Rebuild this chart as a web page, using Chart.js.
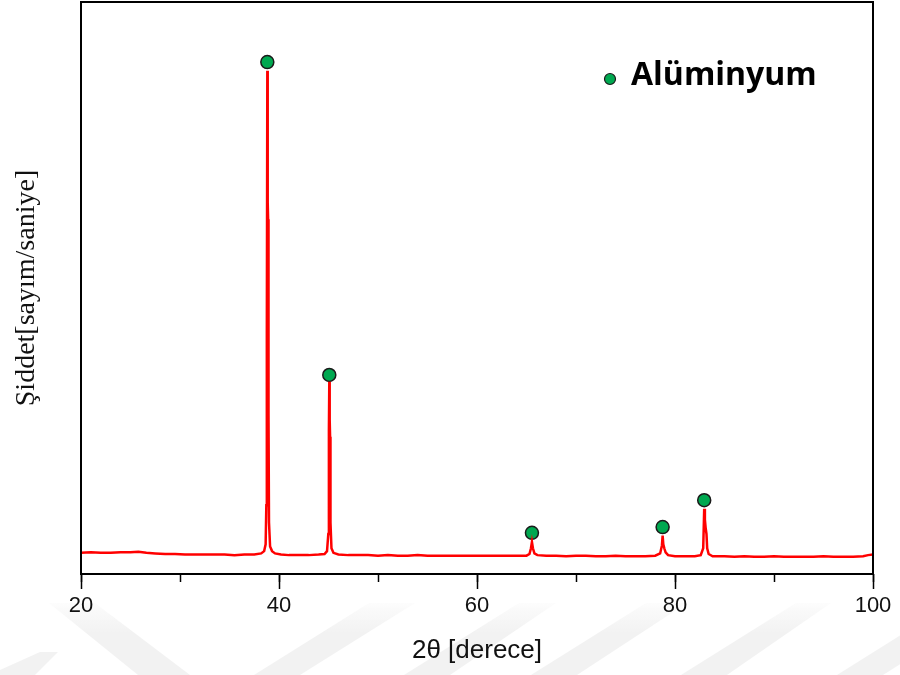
<!DOCTYPE html>
<html>
<head>
<meta charset="utf-8">
<script src="https://cdn.jsdelivr.net/npm/chart.js@4/dist/chart.umd.min.js"></script>
<style>
  html, body { margin: 0; padding: 0; background: #fff; }
  #wrap { width: 900px; height: 675px; }
</style>
</head>
<body>
<div id="wrap"><canvas id="xrd" width="900" height="675"></canvas></div>
<script>
// diffractogram, 2theta in degrees vs counts (arbitrary units)
const twoTheta = [
  20, 21, 22, 23, 24, 25, 25.8, 26.6, 27.5, 28.5, 29.5, 30.5, 31.5, 32.5, 33.5, 34.5, 35.5, 36.5, 37.5,
  38.2, 38.5, 38.65, 38.72, 38.77, 38.82, 38.86, 38.9, 38.94, 38.99, 39.1, 39.3, 39.6,
  40.2, 41, 42, 43, 44, 44.6, 44.85, 44.98, 45.04, 45.08, 45.12, 45.16, 45.2, 45.3, 45.5,
  46, 47, 48, 49, 50, 51, 52, 53, 54, 55, 56, 57, 58, 59, 60, 61, 62, 63, 64, 65,
  65.3, 65.45, 65.55, 65.65, 65.8, 66.1,
  67, 68, 69, 70, 71, 72, 73, 74, 75, 76, 77, 78,
  78.5, 78.68, 78.75, 78.82, 78.92, 79.05, 79.3,
  80, 81, 82, 82.6, 82.85, 82.95, 83.02, 83.1, 83.18, 83.25, 83.4, 83.8,
  85, 86, 87, 88, 89, 90, 91, 92, 93, 94, 95, 96, 97, 98, 99, 99.5, 100
];
const counts = [
  37, 38, 37, 37, 38, 38, 39, 37, 36, 35, 35, 34, 34, 34, 34, 34, 33, 34, 34,
  36, 40, 52, 120, 420, 880, 650, 620, 280, 90, 48, 40, 36,
  34, 33, 33, 33, 34, 35, 40, 70, 250, 336, 270, 240, 90, 45, 37,
  34, 33, 33, 33, 32, 33, 32, 32, 33, 32, 32, 32, 32, 32, 32, 32, 32, 32, 32, 32,
  35, 45, 56, 45, 36, 33,
  32, 32, 31, 32, 32, 31, 31, 32, 31, 31, 31, 32,
  36, 50, 67, 52, 45, 38, 33,
  31, 31, 31, 33, 45, 114, 95, 80, 70, 45, 35, 31,
  31, 30, 31, 30, 30, 31, 30, 30, 30, 30, 31, 30, 30, 30, 31, 33, 34
];

// aluminium reflections marked above the peaks
const alPeaks = [38.82, 45.08, 65.55, 78.75, 82.95];
const alMarks = [895, 348, 72, 82, 129];

const xTicks = [20, 40, 60, 80, 100];

const GREEN = '#00a850';
const EDGE = '#1a1a1a';

// faint chevron stripes behind the axis labels
const stripes = {
  id: 'stripes',
  beforeDraw(chart) {
    const ctx = chart.ctx;
    const g = ctx.createLinearGradient(0, 596, 0, 632);
    g.addColorStop(0, 'rgba(242,242,242,0)');
    g.addColorStop(1, 'rgba(242,242,242,1)');
    const bands = [
      [[49, 603], [95, 603], [190, 675], [138, 675]],
      [[369, 603], [415, 603], [300, 675], [254, 675]],
      [[519, 603], [556, 603], [450, 675], [404, 675]],
      [[646, 603], [687, 603], [577, 675], [531, 675]],
      [[796, 603], [831, 603], [727, 675], [681, 675]],
      [[952, 603], [998, 603], [883, 675], [837, 675]],
      [[40, 652], [58, 652], [35, 675], [0, 675], [0, 670]]
    ];
    ctx.save();
    ctx.fillStyle = g;
    bands.forEach(b => {
      ctx.beginPath();
      ctx.moveTo(b[0][0], b[0][1]);
      b.slice(1).forEach(p => ctx.lineTo(p[0], p[1]));
      ctx.closePath();
      ctx.fill();
    });
    ctx.restore();
  }
};

// closed box around the plot area, plus the key in the upper right
const frame = {
  id: 'frame',
  afterDraw(chart) {
    const {ctx, chartArea: a} = chart;
    ctx.save();
    ctx.strokeStyle = '#000';
    ctx.lineWidth = 2;
    ctx.strokeRect(a.left, a.top, a.right - a.left, a.bottom - a.top);

    const label = chart.data.datasets[1].label;
    ctx.beginPath();
    ctx.arc(610, 79, 5.5, 0, Math.PI * 2);
    ctx.fillStyle = GREEN;
    ctx.fill();
    ctx.lineWidth = 1.2;
    ctx.strokeStyle = EDGE;
    ctx.stroke();
    ctx.fillStyle = '#000';
    ctx.font = 'bold 32px "Open Sans"';
    ctx.textBaseline = 'middle';
    ctx.textAlign = 'left';
    ctx.fillText(label, 631, 76);
    ctx.restore();
  }
};

new Chart(document.getElementById('xrd'), {
  type: 'line',
  data: {
    datasets: [
      {
        label: 'XRD',
        data: twoTheta.map((t, i) => ({x: t, y: counts[i]})),
        borderColor: '#ff0000',
        borderWidth: 2.5,
        pointRadius: 0,
        tension: 0
      },
      {
        label: 'Alüminyum',
        data: alPeaks.map((t, i) => ({x: t, y: alMarks[i]})),
        showLine: false,
        pointStyle: 'circle',
        pointRadius: 6.5,
        pointBackgroundColor: GREEN,
        pointBorderColor: EDGE,
        pointBorderWidth: 1.5
      }
    ]
  },
  options: {
    responsive: false,
    devicePixelRatio: 1,
    animation: false,
    layout: {
      autoPadding: false,
      padding: {top: 2, right: 27, left: 0, bottom: 0}
    },
    scales: {
      x: {
        type: 'linear',
        min: 20,
        max: 100,
        afterBuildTicks: s => { s.ticks = xTicks.map(v => ({value: v})); },
        afterFit: s => { s.height = 101; },
        grid: {
          drawOnChartArea: false,
          tickLength: 15,
          tickWidth: 1.5,
          tickColor: '#000'
        },
        border: {display: false},
        ticks: {
          padding: 4,
          color: '#111',
          font: {family: 'Liberation Sans', size: 22}
        },
        title: {
          display: true,
          text: '2θ [derece]',
          color: '#111',
          font: {family: 'Liberation Sans', size: 26},
          padding: {top: 0, bottom: 9}
        }
      },
      // short minor ticks every 10 degrees
      x2: {
        type: 'linear',
        axis: 'x',
        position: {y: 0},
        min: 20,
        max: 100,
        ticks: {stepSize: 10, display: false},
        grid: {
          drawOnChartArea: false,
          tickLength: 8,
          tickWidth: 1.5,
          tickColor: '#000'
        },
        border: {display: false}
      },
      y: {
        min: 0,
        max: 1000,
        afterFit: s => { s.width = 81; },
        ticks: {display: false},
        grid: {display: false},
        border: {display: false},
        title: {
          display: true,
          text: 'Şiddet[sayım/saniye]',
          color: '#111',
          font: {family: 'Liberation Serif', size: 28},
          padding: {top: 10, bottom: 0}
        }
      }
    },
    plugins: {
      legend: {display: false},
      tooltip: {enabled: false}
    }
  },
  plugins: [stripes, frame]
});
</script>
</body>
</html>
